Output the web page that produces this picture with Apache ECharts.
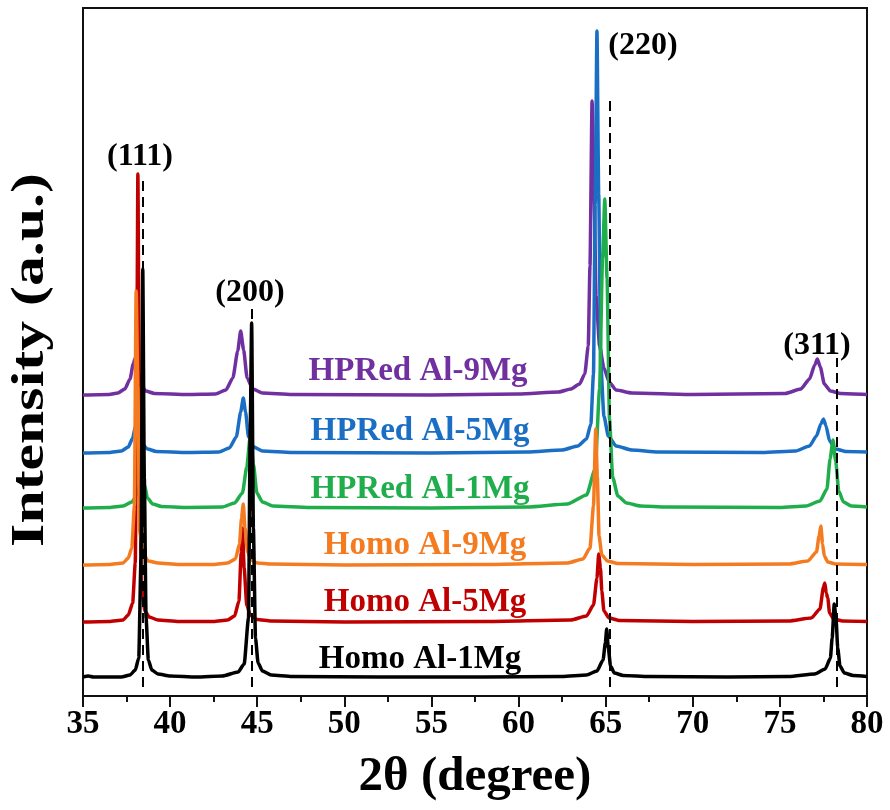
<!DOCTYPE html>
<html>
<head>
<meta charset="utf-8">
<script src="https://cdn.jsdelivr.net/npm/echarts@6/dist/echarts.min.js"></script>
<style>
  html, body { margin: 0; padding: 0; background: #fff; }
  #chart { width: 890px; height: 810px; }
</style>
</head>
<body>
<div id="chart"></div>
<script>
// sample names, bottom to top
var sampleNames = ['Homo Al-1Mg', 'Homo Al-5Mg', 'Homo Al-9Mg', 'HPRed Al-1Mg', 'HPRed Al-5Mg', 'HPRed Al-9Mg'];
var sampleColors = ['#000000', '#c00000', '#f47b20', '#1fae4b', '#1a6fc4', '#7030a0'];
// vertical shift of each pattern (a.u.)
var sampleOffsets = [18, 73, 130, 187, 242, 300];

// [2theta, intensity above own baseline]
var homo1 = [
    [35, 1], [35.3, 2], [35.6, 1], [37.2, 1], [37.7, 3], [38.0, 8], [38.2, 20], [38.33, 120], [38.43, 409],
    [38.52, 200], [38.62, 60], [38.75, 18], [38.95, 8], [39.3, 4], [40, 2], [41.5, 1], [43.0, 2], [43.9, 6], [44.25, 14],
    [44.5, 60], [44.6, 250], [44.68, 355], [44.78, 150], [44.9, 40], [45.05, 15], [45.3, 7], [45.8, 3], [47, 1.5],
    [52, 1], [58, 1], [62.5, 1.5], [63.9, 3], [64.5, 7], [64.85, 18], [64.98, 35], [65.06, 49], [65.15, 30], [65.28, 12],
    [65.5, 5], [66, 2.5], [67.5, 1.5], [72, 1], [75.5, 1.5], [77.0, 4], [77.6, 9], [77.9, 20], [78.0, 40], [78.12, 74], [78.22, 60],
    [78.32, 30], [78.45, 12], [78.7, 5], [79.2, 2.5], [80, 1.5]
];
var homo5 = [
    [35, 1], [36.5, 1.5], [37.3, 3], [37.6, 8], [37.85, 20], [38.0, 60], [38.1, 300], [38.15, 449],
    [38.22, 250], [38.35, 40], [38.55, 12], [38.8, 6], [39.3, 3], [40.5, 1.5], [42.5, 1.5], [43.3, 3], [43.7, 7], [43.95, 22],
    [44.08, 70], [44.15, 95], [44.25, 55], [44.4, 18], [44.6, 8], [45, 3.5], [45.8, 2], [50, 1], [58, 1.5],
    [63.0, 3], [63.9, 7], [64.3, 18], [64.5, 45], [64.6, 69], [64.7, 55], [64.78, 32], [64.9, 12], [65.2, 5], [65.8, 2.5],
    [70, 1.5], [75.5, 2], [76.8, 5], [77.3, 14], [77.5, 36], [77.58, 40], [77.66, 30], [77.75, 25], [77.85, 10],
    [78.1, 4], [78.6, 2], [80, 1.5]
];
var homo9 = [
    [35, 1], [36.5, 1.5], [37.3, 3], [37.6, 8], [37.8, 18], [37.95, 60], [38.05, 275], [38.15, 180],
    [38.25, 35], [38.45, 12], [38.75, 5], [39.3, 3], [40.5, 1.5], [42.5, 1.5], [43.3, 3], [43.75, 7], [43.98, 22], [44.1, 48],
    [44.2, 62], [44.3, 38], [44.45, 14], [44.65, 6], [45.0, 3], [45.8, 2], [50, 1], [58, 1.5], [62.8, 3],
    [63.7, 7], [64.1, 18], [64.3, 60], [64.43, 137], [64.52, 90], [64.62, 30], [64.78, 11], [65.1, 5], [65.7, 2.5], [70, 1.5],
    [75.5, 2], [76.6, 5], [77.1, 14], [77.25, 30], [77.35, 40], [77.45, 22], [77.55, 10], [77.75, 4], [78.2, 2], [80, 1.5]
];
var hpred1 = [
    [35, 1], [36.5, 1.5], [37.3, 3], [37.8, 7], [38.1, 14], [38.27, 25], [38.4, 35], [38.53, 24], [38.7, 11], [39.0, 5],
    [39.5, 2.5], [41, 1.5], [43.0, 2], [43.7, 6], [44.15, 16], [44.4, 42], [44.6, 73], [44.78, 45], [44.98, 16], [45.3, 7],
    [45.9, 3], [48, 1.5], [55, 1], [60.5, 2], [62.8, 5], [63.9, 14], [64.4, 40], [64.65, 120], [64.82, 250],
    [64.95, 310], [65.08, 230], [65.22, 90], [65.4, 32], [65.7, 13], [66.2, 6], [67, 3], [68.5, 2], [75, 1.5], [76.5, 3],
    [77.3, 8], [77.7, 20], [77.88, 50], [78.05, 69], [78.2, 48], [78.38, 18], [78.65, 7], [79.1, 3], [80, 2]
];
var hpred5 = [
    [35, 1], [36.5, 1.5], [37.2, 3], [37.6, 7], [37.85, 16], [38.0, 27], [38.1, 31], [38.22, 22], [38.4, 10], [38.7, 5],
    [39.2, 2.5], [41, 1.5], [42.8, 2], [43.4, 6], [43.8, 17], [44.05, 42], [44.2, 56], [44.33, 42], [44.5, 17], [44.8, 7],
    [45.3, 3], [47, 1.5], [55, 1], [60.5, 2], [62.5, 4], [63.4, 8], [63.9, 15], [64.15, 30], [64.3, 80],
    [64.4, 250], [64.5, 423], [64.6, 260], [64.72, 90], [64.9, 38], [65.15, 18], [65.6, 8], [66.5, 4], [68, 2], [74, 1.5],
    [75.9, 3], [76.7, 8], [77.1, 18], [77.35, 30], [77.5, 35], [77.65, 28], [77.85, 13], [78.2, 5], [78.8, 2.5], [80, 2]
];
var hpred9 = [
    [35, 1], [36.5, 1.5], [37.0, 3], [37.4, 7], [37.7, 17], [37.88, 32], [38.0, 38], [38.12, 29], [38.3, 13], [38.6, 5],
    [39.1, 2.5], [41, 1.5], [42.6, 2], [43.2, 6], [43.6, 18], [43.88, 45], [44.05, 65], [44.22, 46], [44.42, 18], [44.75, 7],
    [45.3, 3], [47, 1.5], [55, 1], [60, 2], [62.3, 4], [63.0, 7], [63.5, 12], [63.8, 22], [64.0, 50],
    [64.1, 130], [64.22, 295], [64.33, 210], [64.45, 100], [64.65, 50], [64.9, 28], [65.2, 14], [65.6, 6], [66.5, 3],
    [70, 1.5], [75.3, 2.5], [76.2, 7], [76.7, 17], [77.0, 31], [77.15, 37], [77.32, 29], [77.55, 12], [77.9, 5], [78.5, 2.5], [80, 1.5]
];
var patterns = [homo1, homo5, homo9, hpred1, hpred5, hpred9];

// reference lines for Al planes
var planeLabels = ['(111)', '(200)', '(220)', '(311)'];
var planePositions = [38.45, 44.7, 65.25, 78.28];
var planeLineTops = [518, 389, 599, 338];

var chart = echarts.init(document.getElementById('chart'));
var font = 'Liberation Serif';

// draw order: purple, blue, green, red, orange, black on top
var drawOrder = [5, 4, 3, 1, 2, 0];
var series = drawOrder.map(function (i) {
    return {
        name: sampleNames[i],
        type: 'line',
        data: patterns[i].map(function (p) { return [p[0], p[1] + sampleOffsets[i]]; }),
        showSymbol: false,
        symbol: 'none',
        smooth: 0.2,
        smoothMonotone: 'x',
        lineStyle: { color: sampleColors[i], width: 3.5 },
        itemStyle: { color: sampleColors[i] },
        z: 2
    };
});

series.push({
    type: 'line',
    data: [],
    z: 3,
    markLine: {
        silent: true,
        symbol: 'none',
        label: { show: false },
        lineStyle: { color: '#000', type: [10, 6], width: 2 },
        data: planePositions.map(function (x, i) {
            return [{ coord: [x, 9] }, { coord: [x, planeLineTops[i]] }];
        })
    }
});

var labelPos = [[140, 157], [250, 293], [643, 46], [817, 346]];
var namePos = [[420, 659], [425, 602], [425, 545], [420, 489], [420, 431], [418, 371]];

var graphics = [{
    type: 'text', x: 31, y: 360, rotation: Math.PI / 2, scaleX: 1.3,
    style: { text: 'Intensity (a.u.)', font: 'bold 46px ' + font, fill: '#000', align: 'center', verticalAlign: 'middle' }
}];
planeLabels.forEach(function (t, i) {
    graphics.push({
        type: 'text', x: labelPos[i][0], y: labelPos[i][1],
        style: { text: t, font: 'bold 32px ' + font, fill: '#000', align: 'center', verticalAlign: 'middle' }
    });
});
sampleNames.forEach(function (t, i) {
    graphics.push({
        type: 'text', x: namePos[i][0], y: namePos[i][1],
        style: { text: t, font: 'bold 33px ' + font, fill: sampleColors[i], align: 'center', verticalAlign: 'middle' }
    });
});

chart.setOption({
    animation: false,
    backgroundColor: '#fff',
    grid: {
        left: 83, right: 23, top: 8, bottom: 114,
        show: true, borderColor: '#111', borderWidth: 2
    },
    xAxis: {
        type: 'value',
        min: 35, max: 80, interval: 5,
        name: '2θ (degree)',
        nameLocation: 'middle',
        nameGap: 57,
        nameTextStyle: { fontFamily: font, fontWeight: 'bold', fontSize: 49, color: '#000' },
        axisLine: { lineStyle: { color: '#111', width: 2 } },
        axisTick: { inside: false, length: 11, lineStyle: { color: '#111', width: 2 } },
        minorTick: { show: true, splitNumber: 2, length: 6, lineStyle: { color: '#111', width: 2 } },
        axisLabel: { fontFamily: font, fontWeight: 'bold', fontSize: 33, color: '#000', margin: 12 },
        splitLine: { show: false }
    },
    yAxis: {
        type: 'value',
        min: 0, max: 688,
        axisLine: { show: true, lineStyle: { color: '#111', width: 2 } },
        axisTick: { show: false },
        axisLabel: { show: false },
        splitLine: { show: false }
    },
    graphic: graphics,
    series: series
});
</script>
</body>
</html>
